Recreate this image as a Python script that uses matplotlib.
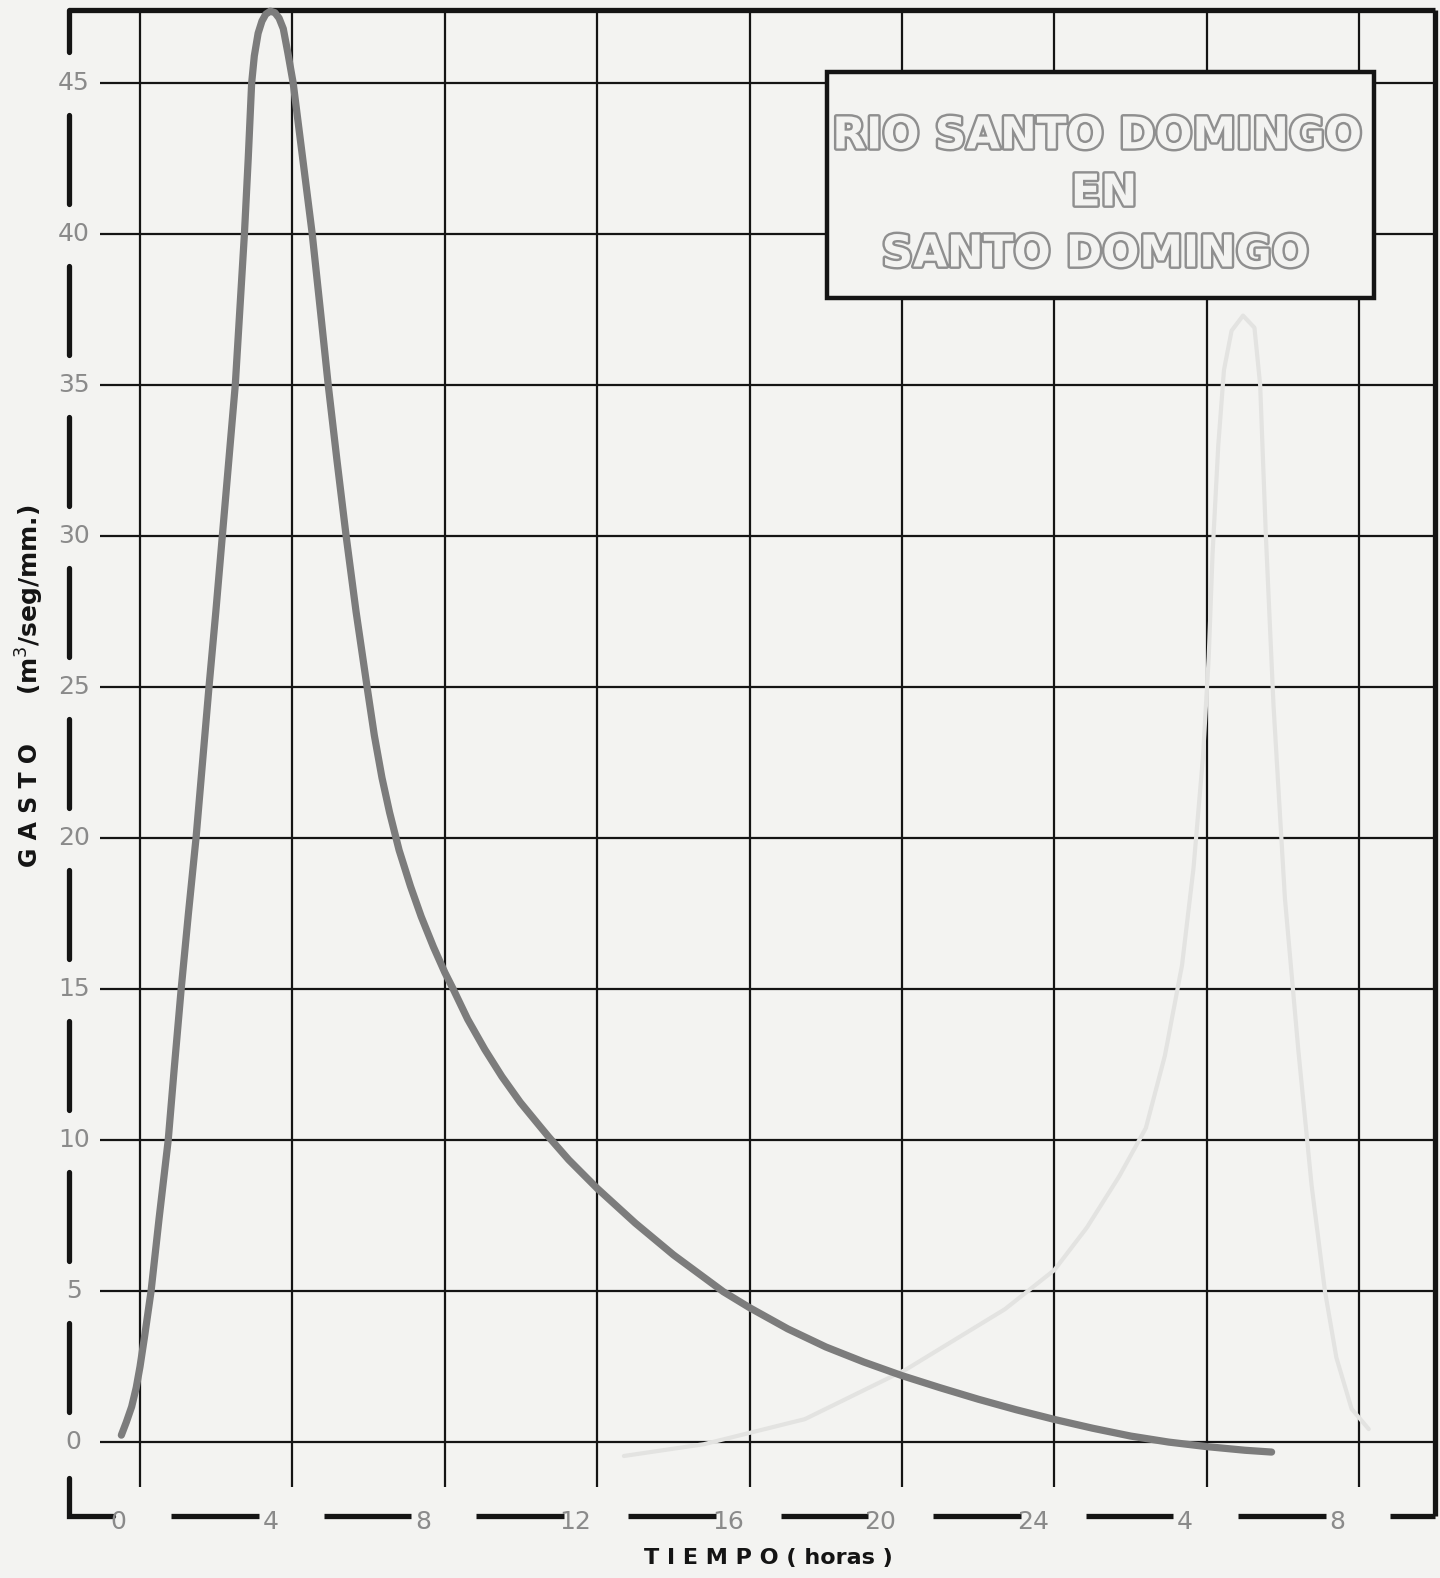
import matplotlib.pyplot as plt
import matplotlib.patheffects as pe
from matplotlib.patches import Rectangle

# hidrograma unitario, tiempo en horas y gasto en m3/seg/mm
tiempo = [-0.49, -0.36, -0.22, -0.1, 0.0, 0.12, 0.29, 0.5, 0.74, 0.9, 1.08,
          1.27, 1.47, 1.64, 1.81, 1.99, 2.16, 2.33, 2.5, 2.62, 2.74, 2.84,
          2.93, 3.0, 3.1, 3.2, 3.3, 3.42, 3.54, 3.65, 3.76, 3.88, 3.95, 4.02,
          4.26, 4.52, 4.74, 4.94, 5.17, 5.41, 5.67, 5.96, 6.15, 6.35, 6.55,
          6.8, 7.1, 7.38, 7.7, 8.0, 8.22, 8.6, 9.05, 9.5, 9.98, 10.5, 10.73,
          11.25, 12.0, 13.0, 14.0, 15.31, 16.0, 17.0, 18.0, 19.0, 20.0, 21.0,
          22.0, 23.0, 24.0, 25.0, 26.0, 27.0, 28.0, 29.0, 29.7]
gasto = [0.23, 0.66, 1.17, 1.8, 2.5, 3.5, 5.0, 7.4, 10.0, 12.4, 15.0,
         17.5, 20.0, 22.5, 25.0, 27.5, 30.0, 32.5, 35.0, 37.5, 40.0, 42.5,
         45.0, 45.9, 46.65, 47.05, 47.28, 47.38, 47.33, 47.15, 46.8, 46.0, 45.5, 45.0,
         42.6, 40.0, 37.4, 35.0, 32.5, 30.0, 27.5, 25.0, 23.4, 22.0, 20.85,
         19.6, 18.4, 17.4, 16.4, 15.55, 15.0, 14.0, 13.0, 12.1, 11.25, 10.45, 10.1,
         9.35, 8.4, 7.25, 6.2, 4.98, 4.45, 3.75, 3.15, 2.65, 2.2, 1.8,
         1.42, 1.07, 0.75, 0.46, 0.2, 0.0, -0.15, -0.27, -0.33]

# curva tenue que se transparenta de la otra hoja
tiempo_sombra = [12.7, 14.8, 17.45, 20.1, 22.7, 24.0, 24.85, 25.7, 26.4, 26.9,
                 27.35, 27.65, 27.9, 28.05, 28.15, 28.3, 28.45, 28.65, 28.95,
                 29.25, 29.4, 29.55, 29.75, 30.05, 30.4, 30.75, 31.1, 31.4,
                 31.8, 32.25]
gasto_sombra = [-0.46, -0.07, 0.76, 2.4, 4.4, 5.7, 7.1, 8.8, 10.4, 12.8,
                15.8, 19.0, 22.7, 26.0, 29.4, 33.0, 35.5, 36.8, 37.3,
                36.9, 35.0, 30.0, 24.4, 18.0, 13.0, 8.5, 5.0, 2.8,
                1.1, 0.43]

y_ticks = [0, 5, 10, 15, 20, 25, 30, 35, 40, 45]
x_ticks = [0, 4, 8, 12, 16, 20, 24, 28, 32]
x_labels = ["0", "4", "8", "12", "16", "20", "24", "4", "8"]

titulo = ["RIO SANTO DOMINGO", "EN", "SANTO DOMINGO"]

papel = "#f3f3f1"
tinta = "#141414"
gris = "#8a8a8a"

fig = plt.figure(figsize=(14.4, 15.78), dpi=100, facecolor=papel)
ax = fig.add_axes([0, 0, 1, 1])
ax.set_facecolor(papel)
ax.set_xlim(-3.675, 34.12)
ax.set_ylim(-4.50, 47.75)
ax.axis("off")

top, right, left, bottom = 47.42, 34.0, -1.86, -2.45

# cuadricula
ax.hlines(y_ticks, -1.05, right, color=tinta, lw=1.6, zorder=1)
ax.vlines(x_ticks, -1.5, top, color=tinta, lw=1.6, zorder=1)

# marco: arriba y derecha continuos
ax.plot([left, right], [top, top], color=tinta, lw=3.8, solid_capstyle="butt", zorder=2)
ax.plot([right, right], [top, bottom], color=tinta, lw=3.8, solid_capstyle="butt", zorder=2)

# marco izquierdo cortado por las etiquetas
ax.plot([left, left], [top, 46.03], color=tinta, lw=3.8, solid_capstyle="round", zorder=2)
for v in y_ticks[:-1]:
    ax.plot([left, left], [v + 1.0, v + 3.95], color=tinta, lw=3.8,
            solid_capstyle="round", zorder=2)
for v in y_ticks:
    ax.text(left + 0.12, v, str(v), ha="center", va="center", fontsize=18, color=gris)
ax.plot([left, left, -0.72], [-1.2, bottom, bottom], color=tinta, lw=3.8,
        solid_capstyle="round", solid_joinstyle="miter", zorder=2)

# marco inferior cortado por las etiquetas de tiempo
for g, lab in zip(x_ticks, x_labels):
    if g > 0:
        ax.plot([g - 3.18, g - 0.88], [bottom, bottom], color=tinta, lw=3.8,
                solid_capstyle="butt", zorder=2)
    ax.text(g - 0.57, bottom - 0.2, lab, ha="center", va="center",
            fontsize=18, color=gris)
ax.plot([32.8, right], [bottom, bottom], color=tinta, lw=3.8,
        solid_capstyle="butt", zorder=2)

# curvas
ax.plot(tiempo_sombra, gasto_sombra, color="#e3e3e1", lw=3, zorder=1.5,
        solid_capstyle="round", solid_joinstyle="round")
ax.plot(tiempo, gasto, color="#7c7c7c", lw=5.2, zorder=3,
        solid_capstyle="round", solid_joinstyle="round")

# recuadro del titulo
ax.add_patch(Rectangle((18.03, 37.88), 14.36, 7.48, facecolor=papel,
                       edgecolor=tinta, lw=3.2, zorder=4))
hueco = [pe.withStroke(linewidth=3.5, foreground="#8f8f8f")]
for texto, (xc, yc) in zip(titulo, [(25.12, 43.25), (25.3, 41.36), (25.07, 39.34)]):
    ax.text(xc, yc, texto, ha="center", va="center", fontsize=31.5,
            fontweight="bold", color=papel, path_effects=hueco, zorder=5)

# titulos de ejes
ax.text(-2.89, 21.1, "G A S T O", rotation=90, ha="center", va="center",
        fontsize=17, fontweight="bold", color=tinta)
ax.text(-2.89, 27.9, "(m$^3$/seg/mm.)", rotation=90, ha="center", va="center",
        fontsize=18, fontweight="bold", color=tinta)
ax.text(16.5, -3.84, "T I E M P O ( horas )", ha="center", va="center",
        fontsize=16, fontweight="bold", color=tinta)

fig.savefig("out.png", dpi=100, facecolor=papel)
